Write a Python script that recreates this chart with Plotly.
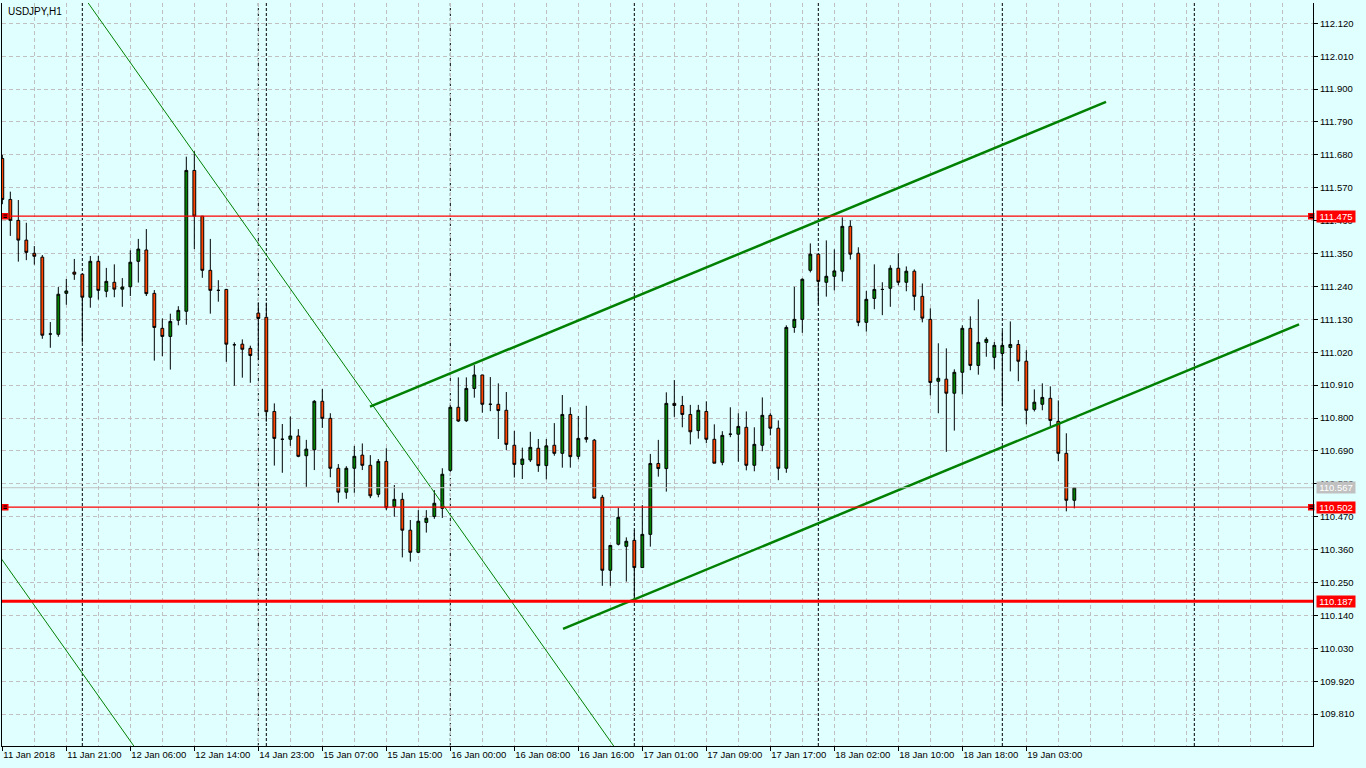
import numpy as np
import plotly.graph_objects as go

# ---------------- data ----------------
chart_title = "USDJPY,H1"

opens = [111.668, 111.531, 111.461, 111.395, 111.351, 111.338, 111.081, 111.080, 111.217, 111.288,
         111.281, 111.204, 111.324, 111.224, 111.254, 111.231, 111.239, 111.324, 111.362, 111.217,
         111.100, 111.073, 111.127, 111.157, 111.628, 111.475, 111.294, 111.227, 111.230, 111.045,
         111.047, 111.033, 111.151, 111.137, 110.822, 110.729, 110.729, 110.740, 110.674, 110.694,
         110.856, 110.799, 110.632, 110.552, 110.632, 110.676, 110.642, 110.545, 110.655, 110.504,
         110.528, 110.425, 110.351, 110.451, 110.471, 110.498, 110.625, 110.836, 110.791, 110.899,
         110.944, 110.846, 110.846, 110.826, 110.709, 110.645, 110.660, 110.699, 110.641, 110.709,
         110.682, 110.812, 110.672, 110.735, 110.726, 110.535, 110.291, 110.378, 110.371, 110.391,
         110.300, 110.411, 110.648, 110.631, 110.849, 110.842, 110.812, 110.758, 110.822, 110.729,
         110.652, 110.746, 110.746, 110.769, 110.642, 110.709, 110.809, 110.766, 110.632, 111.103,
         111.130, 111.294, 111.348, 111.254, 111.274, 111.291, 111.441, 111.351, 111.120, 111.200,
         111.230, 111.234, 111.301, 111.254, 111.291, 111.207, 111.130, 110.923, 110.930, 110.883,
         110.953, 111.100, 110.976, 111.053, 111.003, 111.016, 111.036, 111.046, 110.990, 110.829,
         110.846, 110.866, 110.789, 110.682, 110.525]
highs = [111.680, 111.557, 111.529, 111.453, 111.375, 111.345, 111.121, 111.238, 111.265, 111.332,
         111.281, 111.342, 111.342, 111.302, 111.314, 111.268, 111.361, 111.399, 111.432, 111.228,
         111.133, 111.149, 111.174, 111.674, 111.692, 111.475, 111.399, 111.261, 111.232, 111.053,
         111.063, 111.042, 111.187, 111.186, 110.849, 110.780, 110.805, 110.763, 110.727, 110.860,
         110.897, 110.816, 110.646, 110.639, 110.707, 110.715, 110.676, 110.663, 110.699, 110.576,
         110.550, 110.459, 110.492, 110.492, 110.559, 110.632, 110.843, 110.936, 110.936, 110.977,
         110.944, 110.937, 110.916, 110.887, 110.757, 110.701, 110.754, 110.730, 110.730, 110.783,
         110.877, 110.836, 110.807, 110.841, 110.730, 110.543, 110.374, 110.500, 110.401, 110.426,
         110.509, 110.680, 110.727, 110.886, 110.927, 110.874, 110.844, 110.844, 110.856, 110.779,
         110.756, 110.836, 110.816, 110.822, 110.769, 110.869, 110.816, 110.792, 111.110, 111.239,
         111.267, 111.384, 111.348, 111.394, 111.364, 111.471, 111.461, 111.371, 111.225, 111.314,
         111.254, 111.311, 111.351, 111.307, 111.297, 111.250, 111.167, 111.050, 111.033, 110.963,
         111.110, 111.140, 111.197, 111.070, 111.054, 111.091, 111.123, 111.061, 111.027, 110.896,
         110.916, 110.906, 110.859, 110.749, 110.569]
lows = [111.515, 111.409, 111.323, 111.328, 111.313, 111.065, 111.035, 111.072, 111.179, 111.262,
        111.052, 111.169, 111.196, 111.204, 111.204, 111.172, 111.208, 111.253, 111.208, 110.992,
        111.007, 110.962, 111.110, 111.112, 111.365, 111.269, 111.149, 111.189, 110.988, 110.908,
        110.935, 110.918, 110.995, 110.788, 110.641, 110.617, 110.707, 110.669, 110.570, 110.626,
        110.767, 110.602, 110.517, 110.530, 110.550, 110.626, 110.532, 110.535, 110.492, 110.470,
        110.334, 110.320, 110.348, 110.417, 110.463, 110.466, 110.620, 110.787, 110.787, 110.868,
        110.818, 110.823, 110.730, 110.693, 110.601, 110.596, 110.653, 110.620, 110.595, 110.674,
        110.634, 110.634, 110.662, 110.718, 110.531, 110.239, 110.239, 110.374, 110.253, 110.190,
        110.300, 110.370, 110.604, 110.554, 110.804, 110.769, 110.712, 110.731, 110.716, 110.649,
        110.642, 110.736, 110.654, 110.625, 110.622, 110.689, 110.742, 110.592, 110.617, 111.085,
        111.085, 111.287, 111.180, 111.206, 111.227, 111.257, 111.330, 111.107, 111.089, 111.164,
        111.144, 111.172, 111.244, 111.224, 111.160, 111.120, 110.876, 110.816, 110.687, 110.758,
        110.879, 110.960, 110.945, 111.005, 110.963, 110.839, 110.956, 110.923, 110.779, 110.822,
        110.826, 110.772, 110.656, 110.488, 110.498]
closes = [111.531, 111.461, 111.395, 111.354, 111.341, 111.077, 111.081, 111.214, 111.225, 111.281,
          111.204, 111.324, 111.227, 111.257, 111.231, 111.238, 111.321, 111.365, 111.216, 111.103,
          111.073, 111.123, 111.160, 111.628, 111.475, 111.294, 111.227, 111.227, 111.047, 111.045,
          111.030, 111.009, 111.133, 110.821, 110.732, 110.729, 110.740, 110.672, 110.696, 110.856,
          110.799, 110.632, 110.552, 110.632, 110.672, 110.642, 110.540, 110.655, 110.500, 110.528,
          110.425, 110.351, 110.455, 110.465, 110.515, 110.612, 110.836, 110.790, 110.899, 110.944,
          110.846, 110.846, 110.825, 110.712, 110.645, 110.663, 110.702, 110.641, 110.707, 110.682,
          110.812, 110.671, 110.732, 110.729, 110.532, 110.291, 110.374, 110.468, 110.388, 110.300,
          110.411, 110.648, 110.631, 110.849, 110.842, 110.812, 110.754, 110.826, 110.729, 110.649,
          110.742, 110.746, 110.772, 110.642, 110.712, 110.809, 110.766, 110.632, 111.103, 111.130,
          111.264, 111.348, 111.257, 111.274, 111.292, 111.441, 111.348, 111.120, 111.197, 111.230,
          111.230, 111.301, 111.254, 111.291, 111.207, 111.134, 110.919, 110.933, 110.883, 110.953,
          111.100, 110.976, 111.053, 111.063, 111.043, 111.043, 111.046, 110.990, 110.826, 110.853,
          110.869, 110.792, 110.682, 110.525, 110.567]
bar_index = list(range(len(opens)))

x_tick_bars = [0, 8, 16, 24, 32, 40, 48, 56, 64, 72, 80, 88, 96, 104, 112, 120, 128]
x_tick_labels = ["11 Jan 2018", "11 Jan 21:00", "12 Jan 06:00", "12 Jan 14:00", "14 Jan 23:00",
                 "15 Jan 07:00", "15 Jan 15:00", "16 Jan 00:00", "16 Jan 08:00", "16 Jan 16:00",
                 "17 Jan 01:00", "17 Jan 09:00", "17 Jan 17:00", "18 Jan 02:00", "18 Jan 10:00",
                 "18 Jan 18:00", "19 Jan 03:00"]
day_separator_bars = [10, 32, 33, 56, 79, 102, 125, 149]

y_tick_values = [109.810, 109.920, 110.030, 110.140, 110.250, 110.360, 110.470, 110.580,
                 110.690, 110.800, 110.910, 111.020, 111.130, 111.240, 111.350, 111.460,
                 111.570, 111.680, 111.790, 111.900, 112.010, 112.120]

resistance_level = 111.475
mid_level = 110.502
support_level = 110.187
bid_price = 110.567

# trend line anchors (bar index, price)
desc_line_bars = [22.84, 62.63]
desc_line_prices = [111.730, 110.225]
desc_line2_bars = [0.05, 16.34]
desc_line2_prices = [110.323, 109.707]
channel_upper_bars = [45.96, 137.96]
channel_upper_prices = [110.838, 111.857]
channel_lower_bars = [70.09, 162.09]
channel_lower_prices = [110.095, 111.113]

x_range = [-0.04, 163.835]
y_range = [109.7033, 112.1879]

# ---------------- figure ----------------
FONT = "Liberation Sans"
BG = "#E0FFFF"
GRID = "#C0C0C0"
GREEN_LINE = "#008000"

fig = go.Figure()

fig.add_trace(go.Candlestick(
    x=bar_index, open=opens, high=highs, low=lows, close=closes,
    increasing=dict(fillcolor="#008000", line=dict(color="black", width=1)),
    decreasing=dict(fillcolor="#FF4500", line=dict(color="black", width=1)),
    whiskerwidth=0, showlegend=False, hoverinfo="skip",
))


def extend(bx, py, x0, x1):
    slope = (py[1] - py[0]) / (bx[1] - bx[0])
    xs = np.array([x0, x1])
    return xs, py[0] + slope * (xs - bx[0])


# thin descending lines (extended across the chart)
for bx, py in [(desc_line_bars, desc_line_prices), (desc_line2_bars, desc_line2_prices)]:
    xs, ys = extend(bx, py, -2, 100)
    fig.add_trace(go.Scatter(x=xs, y=ys, mode="lines",
                             line=dict(color=GREEN_LINE, width=1),
                             showlegend=False, hoverinfo="skip"))

# thick channel segments
for bx, py in [(channel_upper_bars, channel_upper_prices), (channel_lower_bars, channel_lower_prices)]:
    fig.add_trace(go.Scatter(x=bx, y=py, mode="lines",
                             line=dict(color=GREEN_LINE, width=2.5),
                             showlegend=False, hoverinfo="skip"))

shapes = []
for b in day_separator_bars:
    shapes.append(dict(type="line", xref="x", yref="paper", x0=b, x1=b, y0=0, y1=1,
                       line=dict(color="black", width=1, dash="3px,2px"), layer="below"))

shapes.append(dict(type="line", xref="paper", yref="y", x0=0, x1=1, y0=bid_price, y1=bid_price,
                   line=dict(color="#C0C0C0", width=1), layer="above"))
shapes.append(dict(type="line", xref="paper", yref="y", x0=0, x1=1, y0=resistance_level, y1=resistance_level,
                   line=dict(color="#FF0000", width=1.2), layer="above"))
shapes.append(dict(type="line", xref="paper", yref="y", x0=0, x1=1, y0=mid_level, y1=mid_level,
                   line=dict(color="#FF0000", width=1.2), layer="above"))
shapes.append(dict(type="line", xref="paper", yref="y", x0=0, x1=1, y0=support_level, y1=support_level,
                   line=dict(color="#FF0000", width=3), layer="above"))

# small square anchors on the thin horizontal lines
mx = [x_range[0] + 0.41, x_range[1] - 0.22]
for lvl in [resistance_level, mid_level]:
    fig.add_trace(go.Scatter(x=mx, y=[lvl, lvl], mode="markers",
                             marker=dict(symbol="square", size=5, color="black",
                                         line=dict(color="#FF0000", width=1.5)),
                             cliponaxis=False, showlegend=False, hoverinfo="skip"))

annotations = [dict(text=chart_title, xref="paper", yref="paper", x=0, y=1,
                    xanchor="left", yanchor="top", xshift=4, yshift=-1, showarrow=False,
                    font=dict(family=FONT, size=10, color="black"))]

for lvl, col in [(resistance_level, "#FF0000"), (bid_price, "#C0C0C0"),
                 (mid_level, "#FF0000"), (support_level, "#FF0000")]:
    annotations.append(dict(text=f"{lvl:.3f}", xref="paper", yref="y", x=1, y=lvl,
                            xanchor="left", yanchor="middle", xshift=3, showarrow=False,
                            bgcolor=col, width=38, height=11, borderpad=0,
                            font=dict(family=FONT, size=9.5, color="white")))

fig.update_layout(
    width=1366, height=768,
    margin=dict(l=2, r=53, t=3, b=22),
    paper_bgcolor=BG, plot_bgcolor=BG,
    boxgap=0.5,
    shapes=shapes, annotations=annotations,
    showlegend=False,
    font=dict(family=FONT, size=9.5, color="black"),
    xaxis=dict(
        range=x_range, rangeslider=dict(visible=False),
        tickmode="array", tickvals=x_tick_bars, ticktext=x_tick_labels,
        ticks="outside", ticklen=4, tickcolor="black", tickwidth=1,
        ticklabelposition="outside right",
        tickfont=dict(family=FONT, size=9.5, color="black"),
        showgrid=True, gridcolor=GRID, griddash="4px,3px", gridwidth=1,
        minor=dict(tick0=0, dtick=4, showgrid=True, gridcolor=GRID, griddash="4px,3px", gridwidth=1),
        showline=True, linecolor="black", linewidth=1, mirror=False,
        zeroline=False, fixedrange=True,
    ),
    yaxis=dict(
        range=y_range, side="right",
        tickmode="array", tickvals=y_tick_values,
        ticktext=[f"{v:.3f}" for v in y_tick_values],
        ticks="outside", ticklen=4, tickcolor="black", tickwidth=1,
        tickfont=dict(family=FONT, size=9.5, color="black"),
        showgrid=True, gridcolor=GRID, griddash="4px,3px", gridwidth=1,
        showline=True, linecolor="black", linewidth=1, mirror=True,
        zeroline=False, fixedrange=True,
    ),
)

fig.write_html(
    "out.html",
    config={"displayModeBar": False},
    post_script="document.body.style.margin='0';document.body.style.overflow='hidden';",
)
